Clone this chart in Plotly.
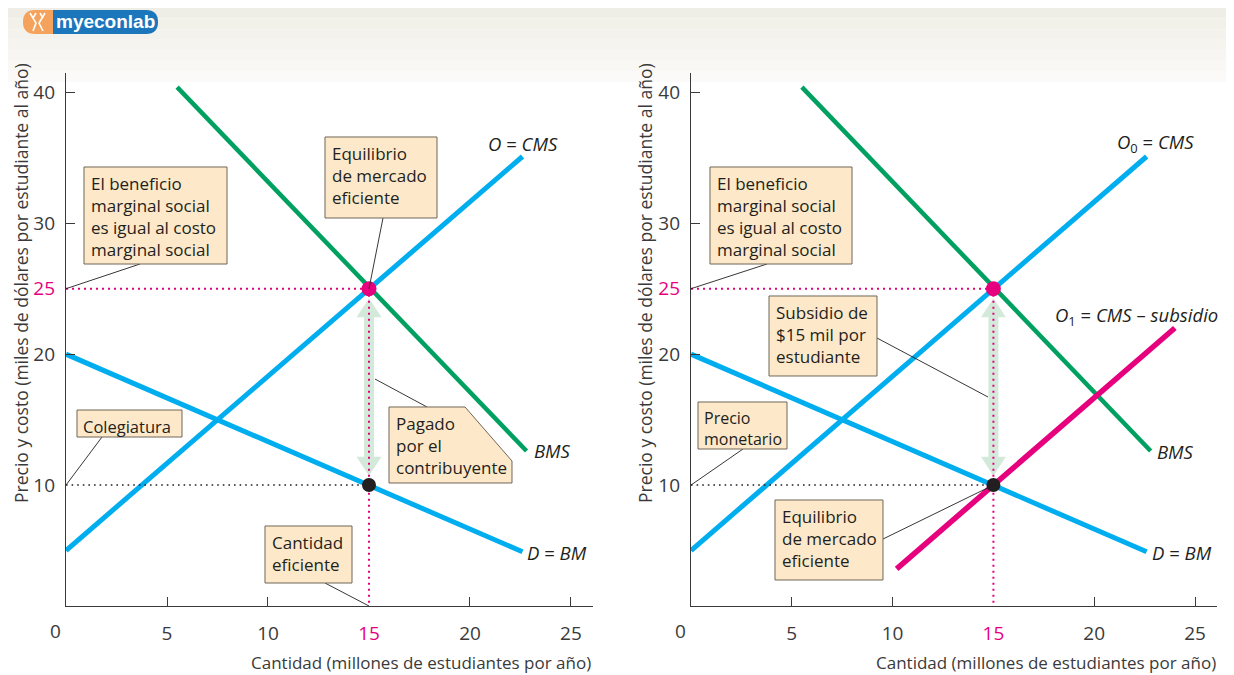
import plotly.graph_objects as go

# page body has an 8px margin: the figure is drawn at (8, 8)
OFF = 8
FW, FH = 1226, 667

# ---------------- data ----------------
x_ticks = [5, 10, 15, 20, 25]
y_ticks = [10, 20, 25, 30, 40]
# D = BM (demand / marginal benefit)
bm_x = [0, 22.6]
bm_y = [20, 4.9]
# O = CMS (supply / marginal social cost)
cms_x = [0, 22.6]
cms_y = [5, 35.1]
# BMS (marginal social benefit)
bms_x = [5.5, 22.8]
bms_y = [40.4, 12.6]
# O1 = CMS - subsidio (right panel)
o1_x = [10.2, 24.0]
o1_y = [3.6, 22.0]
# key values
q_eff = 15       # efficient quantity
p_eff = 25       # marginal social benefit = marginal social cost
p_paid = 10      # tuition / money price

# ---------------- colours ----------------
BLUE = "#00aeef"
GREEN = "#00a160"
PINK = "#e6007e"
DARK = "#231f20"
AXIS = "#3a3a3a"
BOXF = "#fde9c9"
BOXB = "#6f6557"
ARROW = "#d3eadb"
FONT = "Open Sans"
BOX_FS = 17
LBL_FS = 18.5
TICK_FS = 19


def P(px, py):
    """screen pixel -> paper fraction"""
    return (px - OFF) / FW, 1 - (py - OFF) / FH


# ---------------- axes geometry ----------------
XR = [0, 26.09]
YR = [0.76, 41.48]
XD = {1: [P(66, 0)[0], P(593, 0)[0]], 2: [P(691, 0)[0], P(1217, 0)[0]]}
YD = [P(0, 606)[1], P(0, 73)[1]]


def d2px(x, p):
    return OFF + XD[p][0] * FW + (x - XR[0]) / (XR[1] - XR[0]) * (XD[p][1] - XD[p][0]) * FW


def d2py(y):
    return OFF + (1 - YD[0]) * FH - (y - YR[0]) / (YR[1] - YR[0]) * (YD[1] - YD[0]) * FH


def ppu_x(p):
    return (XD[p][1] - XD[p][0]) * FW / (XR[1] - XR[0])


PPU_Y = (YD[1] - YD[0]) * FH / (YR[1] - YR[0])

fig = go.Figure()
shapes = []
annotations = []

# banner at top (gradient)
bands = ["#efeee6", "#f1f0e9", "#f3f2ec", "#f5f4ef", "#f7f6f2", "#f9f8f5", "#fbfaf8"]
bh = (82 - OFF) / len(bands)
for i, c in enumerate(bands):
    x0, y0 = P(OFF, OFF + i * bh)
    x1, y1 = P(1234, OFF + (i + 1) * bh)
    shapes.append(dict(type="rect", xref="paper", yref="paper", x0=x0, x1=x1, y0=y1, y1=y0,
                       fillcolor=c, line=dict(width=0), layer="below"))


def pp(a, b):
    X, Y = P(a, b)
    return f"{X:.5f},{Y:.5f}"


def path_px(pts, close=True):
    s = ""
    for i, (a, b) in enumerate(pts):
        s += ("M" if i == 0 else "L") + pp(a, b) + " "
    return s + ("Z" if close else "")


def pill(x0, x1, y0, y1, r, left_round, right_round):
    s = "M" + (pp(x0 + r, y0) if left_round else pp(x0, y0)) + " "
    if right_round:
        s += "L" + pp(x1 - r, y0) + " Q" + pp(x1, y0) + " " + pp(x1, y0 + r) + " "
        s += "L" + pp(x1, y1 - r) + " Q" + pp(x1, y1) + " " + pp(x1 - r, y1) + " "
    else:
        s += "L" + pp(x1, y0) + " L" + pp(x1, y1) + " "
    if left_round:
        s += "L" + pp(x0 + r, y1) + " Q" + pp(x0, y1) + " " + pp(x0, y1 - r) + " "
        s += "L" + pp(x0, y0 + r) + " Q" + pp(x0, y0) + " " + pp(x0 + r, y0) + " Z"
    else:
        s += "L" + pp(x0, y1) + " Z"
    return s


# logo
shapes.append(dict(type="path", xref="paper", yref="paper", path=pill(23, 53, 10, 34, 12, True, False),
                   fillcolor="#f5a25d", line=dict(width=0)))
shapes.append(dict(type="path", xref="paper", yref="paper", path=pill(53, 158, 10, 34, 12, False, True),
                   fillcolor="#1b76bb", line=dict(width=0)))
for seg in [[(30, 13), (36, 23), (33, 31)], [(36, 13), (33, 18)], [(45, 13), (39, 23), (43, 31)],
            [(40, 13), (43, 18)]]:
    shapes.append(dict(type="path", xref="paper", yref="paper", path=path_px(seg, close=False),
                       line=dict(color="white", width=1.6)))
lx, ly = P(105, 22)
annotations.append(dict(text="<b>myeconlab</b>", x=lx, y=ly, xref="paper", yref="paper",
                        showarrow=False, xanchor="center", yanchor="middle",
                        font=dict(family="Liberation Sans", size=19, color="white")))

# ---------------- traces ----------------
for p in (1, 2):
    xa = "x" if p == 1 else "x2"
    ya = "y" if p == 1 else "y2"
    sx = ppu_x(p)
    gap = 0.72
    top, bot = p_eff - gap, p_paid + gap
    hl = 19 / PPU_Y
    sw = 5 / sx
    hw = 12.5 / sx
    ax_ = [q_eff, q_eff + hw, q_eff + sw, q_eff + sw, q_eff + hw, q_eff, q_eff - hw, q_eff - sw,
           q_eff - sw, q_eff - hw, q_eff]
    ay_ = [top, top - hl, top - hl, bot + hl, bot + hl, bot, bot + hl, bot + hl, top - hl, top - hl, top]
    fig.add_trace(go.Scatter(x=ax_, y=ay_, fill="toself", fillcolor=ARROW, mode="lines",
                             line=dict(width=0, color=ARROW), xaxis=xa, yaxis=ya, hoverinfo="skip"))
    fig.add_trace(go.Scatter(x=bm_x, y=bm_y, mode="lines", line=dict(color=BLUE, width=5),
                             xaxis=xa, yaxis=ya, name="D = BM"))
    fig.add_trace(go.Scatter(x=cms_x, y=cms_y, mode="lines", line=dict(color=BLUE, width=5),
                             xaxis=xa, yaxis=ya, name="O = CMS"))
    fig.add_trace(go.Scatter(x=bms_x, y=bms_y, mode="lines", line=dict(color=GREEN, width=4.5),
                             xaxis=xa, yaxis=ya, name="BMS"))
    if p == 2:
        fig.add_trace(go.Scatter(x=o1_x, y=o1_y, mode="lines", line=dict(color=PINK, width=5.5),
                                 xaxis=xa, yaxis=ya, name="O1"))
    fig.add_trace(go.Scatter(x=[XR[0], q_eff], y=[p_eff, p_eff], mode="lines",
                             line=dict(color=PINK, width=2, dash="2px,4px"), xaxis=xa, yaxis=ya))
    fig.add_trace(go.Scatter(x=[q_eff, q_eff], y=[p_eff, YR[0]], mode="lines",
                             line=dict(color=PINK, width=2, dash="2px,4px"), xaxis=xa, yaxis=ya))
    fig.add_trace(go.Scatter(x=[XR[0], q_eff], y=[p_paid, p_paid], mode="lines",
                             line=dict(color=DARK, width=1.6, dash="1.6px,4px"), xaxis=xa, yaxis=ya))
    fig.add_trace(go.Scatter(x=[q_eff], y=[p_eff], mode="markers", marker=dict(color=PINK, size=15),
                             xaxis=xa, yaxis=ya))
    fig.add_trace(go.Scatter(x=[q_eff], y=[p_paid], mode="markers", marker=dict(color=DARK, size=14),
                             xaxis=xa, yaxis=ya))


# ---------------- boxes + leaders ----------------
def box(pts, text, tx, ty, fs=BOX_FS):
    shapes.append(dict(type="path", xref="paper", yref="paper", path=path_px(pts),
                       fillcolor=BOXF, line=dict(color=BOXB, width=1)))
    X, Y = P(tx, ty)
    annotations.append(dict(text=text, x=X, y=Y, xref="paper", yref="paper", showarrow=False,
                            xanchor="left", yanchor="top", align="left",
                            font=dict(family=FONT, size=fs, color=DARK)))


def rect(x0, y0, x1, y1, text, fs=BOX_FS, pad=5):
    box([(x0, y0), (x1, y0), (x1, y1), (x0, y1)], text, x0 + pad, y0 + 3, fs)


def leader(px0, py0, px1, py1):
    a, b = P(px0, py0)
    c, d = P(px1, py1)
    shapes.append(dict(type="line", xref="paper", yref="paper", x0=a, y0=b, x1=c, y1=d,
                       line=dict(color=DARK, width=0.9)))


bms_txt = "El beneficio<br>marginal social<br>es igual al costo<br>marginal social"
# left panel
leader(140, 264, d2px(XR[0], 1), d2py(p_eff))
rect(84, 167, 227, 264, bms_txt)
leader(383, 218, d2px(q_eff, 1), d2py(p_eff))
rect(325, 137, 437, 218, "Equilibrio<br>de mercado<br>eficiente")
leader(427, 407, 375, 379)
box([(389, 407), (465, 407), (512, 461), (512, 483), (389, 483)],
    "Pagado<br>por el<br>contribuyente", 394, 410)
leader(102, 437, d2px(XR[0], 1), d2py(p_paid))
rect(77, 410, 182, 437, "Colegiatura", fs=16.5, pad=4)
leader(325, 583, d2px(q_eff, 1), d2py(YR[0]))
rect(265, 526, 352, 583, "Cantidad<br>eficiente")
# right panel
leader(767, 264, d2px(XR[0], 2), d2py(p_eff))
rect(710, 167, 852, 264, bms_txt)
leader(877, 338, 988, 397)
rect(769, 296, 877, 376, "Subsidio de<br>$15 mil por<br>estudiante")
leader(743, 449, d2px(XR[0], 2), d2py(p_paid))
rect(698, 402, 787, 449, "Precio<br>monetario", fs=16, pad=4)
leader(883, 539, d2px(q_eff, 2), d2py(p_paid))
rect(775, 500, 883, 580, "Equilibrio<br>de mercado<br>eficiente")


# ---------------- curve labels ----------------
def label(text, px, py, anchor="left"):
    X, Y = P(px, py)
    annotations.append(dict(text=text, x=X, y=Y, xref="paper", yref="paper", showarrow=False,
                            xanchor=anchor, yanchor="middle",
                            font=dict(family=FONT, size=LBL_FS, color=DARK)))


label("<i>O</i> = <i>CMS</i>", 486, 143)
label("<i>BMS</i>", 532, 450)
label("<i>D</i> = <i>BM</i>", 525, 552)
label("<i>O</i><sub>0</sub> = <i>CMS</i>", 1115, 143)
label("<i>O</i><sub>1</sub> = <i>CMS</i> – <i>subsidio</i>", 1053, 316)
label("<i>BMS</i>", 1155, 451)
label("<i>D</i> = <i>BM</i>", 1150, 552)

for zx in (56, 680):
    X, Y = P(zx, 631)
    annotations.append(dict(text="0", x=X, y=Y, xref="paper", yref="paper", showarrow=False,
                            xanchor="center", yanchor="middle",
                            font=dict(family=FONT, size=TICK_FS, color=AXIS)))
for tx in (593, 1218):
    X, Y = P(tx, 662)
    annotations.append(dict(text="Cantidad (millones de estudiantes por año)", x=X, y=Y, xref="paper",
                            yref="paper", showarrow=False, xanchor="right", yanchor="middle",
                            font=dict(family=FONT, size=17, color=AXIS)))
for tx in (21, 645):
    X, Y = P(tx, 283)
    annotations.append(dict(text="Precio y costo (miles de dólares por estudiante al año)", x=X, y=Y,
                            xref="paper", yref="paper", showarrow=False, textangle=-90,
                            xanchor="center", yanchor="middle", borderpad=0,
                            font=dict(family=FONT, size=17.5, color=AXIS)))


def color_lbl(v, hi):
    return f"<span style='color:{PINK}'>{v}</span>" if v == hi else str(v)


xaxis_common = dict(range=XR, showgrid=False, zeroline=False, showline=True, linecolor=AXIS, linewidth=1.4,
                    tickmode="array", tickvals=x_ticks, ticktext=[color_lbl(v, q_eff) for v in x_ticks],
                    ticks="", ticklabelstandoff=10,
                    tickfont=dict(family=FONT, size=TICK_FS, color=AXIS),
                    minor=dict(tickmode="array", tickvals=[v for v in x_ticks if v != q_eff], ticks="inside",
                               ticklen=9, tickwidth=1.4, tickcolor=AXIS),
                    fixedrange=True)
yaxis_common = dict(range=YR, domain=YD, showgrid=False, zeroline=False, showline=True, linecolor=AXIS,
                    linewidth=1.4, tickmode="array", tickvals=y_ticks,
                    ticktext=[color_lbl(v, p_eff) for v in y_ticks], ticks="", ticklabelstandoff=6,
                    tickfont=dict(family=FONT, size=TICK_FS, color=AXIS),
                    minor=dict(tickmode="array", tickvals=[v for v in y_ticks if v not in (p_eff, p_paid)],
                               ticks="inside", ticklen=9, tickwidth=1.4, tickcolor=AXIS),
                    fixedrange=True)

fig.update_layout(
    width=FW, height=FH, margin=dict(l=0, r=0, t=0, b=0),
    paper_bgcolor="white", plot_bgcolor="rgba(0,0,0,0)",
    showlegend=False,
    xaxis=dict(domain=XD[1], anchor="y", **xaxis_common),
    yaxis=dict(anchor="x", **yaxis_common),
    xaxis2=dict(domain=XD[2], anchor="y2", **xaxis_common),
    yaxis2=dict(anchor="x2", **yaxis_common),
    shapes=shapes,
    annotations=annotations,
    font=dict(family=FONT),
)

fig.write_html("out.html")
